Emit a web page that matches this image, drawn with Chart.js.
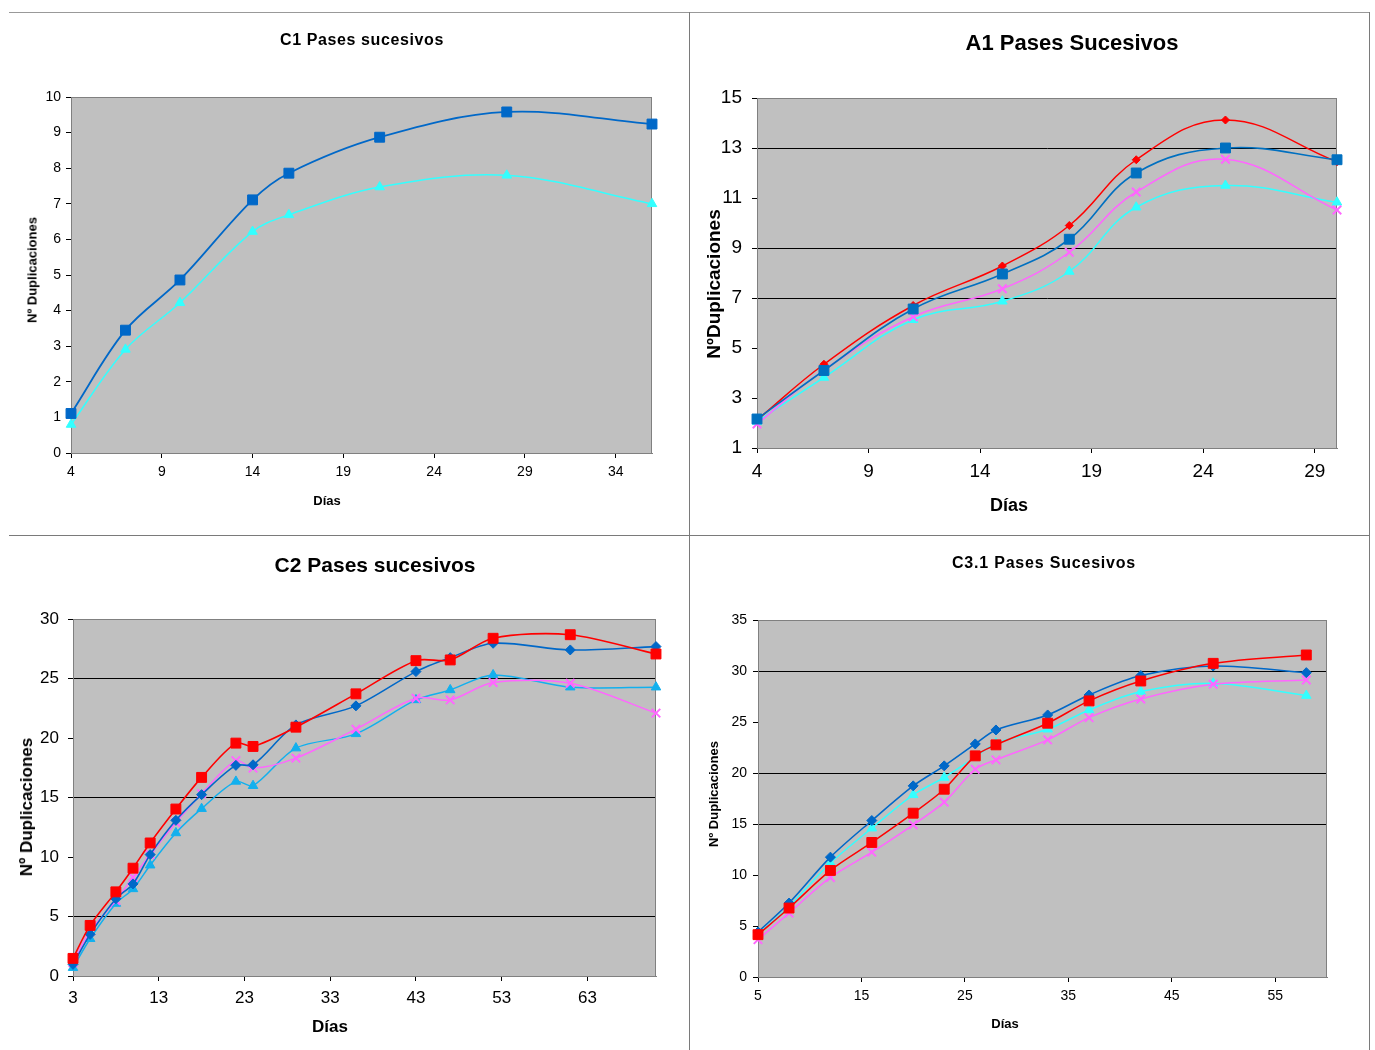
<!DOCTYPE html>
<html>
<head>
<meta charset="utf-8">
<script src="https://cdn.jsdelivr.net/npm/chart.js@4.4.0/dist/chart.umd.min.js"></script>
<style>
  body { margin: 0; background: #fff; font-family: "Liberation Sans", Arial, sans-serif; }
  #page { position: relative; width: 1375px; height: 1050px; overflow: hidden; }
  .panel { position: absolute; }
  .rule { position: absolute; background: #7a7a7a; }
  .lbl { position: absolute; font-weight: bold; color: #000; white-space: nowrap; transform: translate(-50%, -50%); }
  .rot { transform: translate(-50%, -50%) rotate(-90deg); }
</style>
</head>
<body>
<div id="page">
  <div class="rule" style="left:9px;top:12px;width:1361px;height:1px;background:#999"></div>
  <div class="rule" style="left:1369px;top:12px;width:1px;height:1038px"></div>
  <div class="rule" style="left:689px;top:12px;width:1px;height:1038px"></div>
  <div class="rule" style="left:9px;top:535px;width:1361px;height:1px"></div>

  <canvas id="c1" class="panel" width="679" height="522" style="left:10px;top:13px"></canvas>
  <canvas id="a1" class="panel" width="679" height="522" style="left:690px;top:13px"></canvas>
  <canvas id="c2" class="panel" width="679" height="514" style="left:10px;top:536px"></canvas>
  <canvas id="c3" class="panel" width="679" height="514" style="left:690px;top:536px"></canvas>

  <div class="lbl" style="left:362px;top:40px;font-size:16px;letter-spacing:0.6px">C1 Pases sucesivos</div>
  <div class="lbl rot" style="left:32px;top:270px;font-size:13px">Nº Duplicaciones</div>
  <div class="lbl" style="left:327px;top:500px;font-size:13px">Días</div>

  <div class="lbl" style="left:1072px;top:43px;font-size:22px">A1 Pases Sucesivos</div>
  <div class="lbl rot" style="left:714px;top:284px;font-size:19px">NºDuplicaciones</div>
  <div class="lbl" style="left:1009px;top:505px;font-size:18px">Días</div>

  <div class="lbl" style="left:375px;top:565px;font-size:21px">C2 Pases sucesivos</div>
  <div class="lbl rot" style="left:27px;top:807px;font-size:17px">Nº Duplicaciones</div>
  <div class="lbl" style="left:330px;top:1027px;font-size:17px">Días</div>

  <div class="lbl" style="left:1044px;top:563px;font-size:16px;letter-spacing:0.8px">C3.1 Pases Sucesivos</div>
  <div class="lbl rot" style="left:713px;top:794px;font-size:13px">Nº Duplicaciones</div>
  <div class="lbl" style="left:1005px;top:1023px;font-size:13px">Días</div>
</div>
<script>
// C1
const c1Days = [4, 7, 10, 14, 16, 21, 28, 36];
const c1Blue = [1.11, 3.45, 4.86, 7.11, 7.86, 8.87, 9.58, 9.24];
const c1Cyan = [0.8, 2.91, 4.22, 6.22, 6.69, 7.47, 7.8, 7.0];
const c1XTicks = [4, 9, 14, 19, 24, 29, 34];
const c1YTicks = [0, 1, 2, 3, 4, 5, 6, 7, 8, 9, 10];

// A1
const a1Days = [4, 7, 11, 15, 18, 21, 25, 30];
const a1Red = [2.12, 4.35, 6.7, 8.28, 9.9, 12.53, 14.12, 12.45];
const a1Blue = [2.16, 4.1, 6.56, 7.96, 9.35, 12.0, 13.0, 12.53];
const a1Magenta = [1.96, 4.12, 6.25, 7.37, 8.83, 11.24, 12.55, 10.52];
const a1Cyan = [2.06, 3.82, 6.13, 6.87, 8.06, 10.63, 11.5, 10.83];
const a1XTicks = [4, 9, 14, 19, 24, 29];
const a1YTicks = [1, 3, 5, 7, 9, 11, 13, 15];

// C2
const c2Days = [3, 5, 8, 10, 12, 15, 18, 22, 24, 29, 36, 43, 47, 52, 61, 71];
const c2Red = [1.48, 4.25, 7.07, 9.06, 11.18, 14.03, 16.69, 19.57, 19.29, 20.91, 23.71, 26.5, 26.56, 28.38, 28.68, 27.06];
const c2Blue = [0.98, 3.5, 6.49, 7.74, 10.2, 13.08, 15.24, 17.7, 17.75, 21.1, 22.7, 25.58, 26.75, 27.96, 27.4, 27.68];
const c2Magenta = [1.12, 3.77, 6.35, 8.3, 10.2, 12.9, 15.32, 18.1, 17.47, 18.31, 20.74, 23.34, 23.2, 24.66, 24.6, 22.09];
const c2Cyan = [0.7, 3.13, 6.09, 7.32, 9.31, 12.02, 14.06, 16.35, 15.99, 19.15, 20.35, 23.2, 24.04, 25.3, 24.27, 24.27];
const c2XTicks = [3, 13, 23, 33, 43, 53, 63];
const c2YTicks = [0, 5, 10, 15, 20, 25, 30];

// C3.1
const c3Days = [5, 8, 12, 16, 20, 23, 26, 28, 33, 37, 42, 49, 58];
const c3Blue = [4.41, 7.25, 11.75, 15.34, 18.74, 20.7, 22.85, 24.22, 25.69, 27.65, 29.55, 30.49, 29.84];
const c3Red = [4.15, 6.76, 10.45, 13.19, 16.06, 18.41, 21.68, 22.76, 24.88, 27.07, 29.02, 30.75, 31.57];
const c3Cyan = [4.21, 6.92, 11.17, 14.59, 17.86, 19.56, 21.55, 22.92, 24.29, 26.18, 27.98, 28.8, 27.59];
const c3Magenta = [3.66, 6.27, 9.76, 12.24, 14.92, 17.14, 20.37, 21.29, 23.25, 25.43, 27.26, 28.7, 29.12];
const c3XTicks = [5, 15, 25, 35, 45, 55];
const c3YTicks = [0, 5, 10, 15, 20, 25, 30, 35];

const FONT = '"Liberation Sans", Arial, sans-serif';

// gray plot background + frame, like excel
const plotFrame = {
  id: "plotFrame",
  beforeDraw(chart) {
    const a = chart.chartArea;
    const ctx = chart.ctx;
    ctx.save();
    ctx.fillStyle = "#C0C0C0";
    ctx.fillRect(a.left, a.top, a.right - a.left, a.bottom - a.top);
    ctx.restore();
  },
  beforeDatasetsDraw(chart) {
    const a = chart.chartArea;
    const ctx = chart.ctx;
    ctx.save();
    ctx.strokeStyle = "#808080";
    ctx.lineWidth = 1;
    ctx.strokeRect(a.left + 0.5, a.top + 0.5, a.right - a.left - 1, a.bottom - a.top);
    ctx.restore();
  },
};

function series(days, values, color, style, radius, width, tension) {
  return {
    data: days.map((d, i) => ({ x: d, y: values[i] })),
    borderColor: color,
    backgroundColor: color,
    pointBorderColor: color,
    pointBackgroundColor: color,
    pointStyle: style,
    pointRadius: radius,
    pointHoverRadius: radius,
    pointBorderWidth: style === "crossRot" ? 2 : 1,
    borderWidth: width,
    tension: tension,
    clip: false,
  };
}

function makeChart(id, datasets, o) {
  new Chart(document.getElementById(id), {
    type: "line",
    data: { datasets: datasets },
    plugins: [plotFrame],
    options: {
      responsive: false,
      animation: false,
      events: [],
      layout: { padding: o.pad },
      plugins: { legend: { display: false }, tooltip: { enabled: false } },
      scales: {
        x: {
          type: "linear",
          min: o.xMin,
          max: o.xMax,
          afterBuildTicks: (s) => { s.ticks = o.xTicks.map((v) => ({ value: v })); },
          afterFit: (s) => { s.height = o.xH; },
          grid: { drawOnChartArea: false, drawTicks: true, tickLength: 5, tickColor: "#000" },
          border: { color: "#808080" },
          ticks: { font: { family: FONT, size: o.font }, color: "#000", padding: o.xPad, maxRotation: 0, autoSkip: false },
        },
        y: {
          type: "linear",
          min: o.yMin,
          max: o.yMax,
          afterBuildTicks: (s) => { s.ticks = o.yTicks.map((v) => ({ value: v })); },
          afterFit: (s) => { s.width = o.yW; },
          grid: {
            color: (c) => (o.grid.includes(c.tick && c.tick.value) ? "#000" : "rgba(0,0,0,0)"),
            tickLength: 5,
            tickColor: "#000",
          },
          border: { color: "#808080" },
          ticks: { font: { family: FONT, size: o.font }, color: "#000", padding: o.yPad, autoSkip: false },
        },
      },
    },
  });
}

const BLUE = "#0068C8";
const CYAN = "#33FFFF";
const SKY = "#12B0EE";
const RED = "#FF0000";
const PINK = "#FF66FF";

makeChart("c1", [
  series(c1Days, c1Blue, BLUE, "rect", 7, 1.8, 0.35),
  series(c1Days, c1Cyan, CYAN, "triangle", 5.5, 1.5, 0.35),
], {
  xMin: 4, xMax: 36, xTicks: c1XTicks, yMin: 0, yMax: 10, yTicks: c1YTicks, grid: [],
  pad: { left: 0, top: 84, right: 37, bottom: 42 }, yW: 61, xH: 40, font: 14, xPad: 6, yPad: 5,
});

makeChart("a1", [
  series(a1Days, a1Blue, "#0070C0", "rect", 7, 1.6, 0.4),
  series(a1Days, a1Red, RED, "rectRot", 4, 1.5, 0.4),
  series(a1Days, a1Magenta, PINK, "crossRot", 6, 1.5, 0.4),
  series(a1Days, a1Cyan, CYAN, "triangle", 5.5, 1.5, 0.4),
], {
  xMin: 4, xMax: 30, xTicks: a1XTicks, yMin: 1, yMax: 15, yTicks: a1YTicks, grid: [7, 9, 13],
  pad: { left: 0, top: 85, right: 32, bottom: 47 }, yW: 67, xH: 40, font: 19, xPad: 7, yPad: 10,
});

makeChart("c2", [
  series(c2Days, c2Red, RED, "rect", 7, 1.6, 0.3),
  series(c2Days, c2Blue, BLUE, "rectRot", 5, 1.6, 0.3),
  series(c2Days, c2Magenta, PINK, "crossRot", 6, 1.5, 0.3),
  series(c2Days, c2Cyan, SKY, "triangle", 5.5, 1.5, 0.3),
], {
  xMin: 3, xMax: 71, xTicks: c2XTicks, yMin: 0, yMax: 30, yTicks: c2YTicks, grid: [5, 15, 25],
  pad: { left: 0, top: 83, right: 33, bottom: 34 }, yW: 63, xH: 40, font: 17, xPad: 7, yPad: 9,
});

makeChart("c3", [
  series(c3Days, c3Red, RED, "rect", 7, 1.5, 0.3),
  series(c3Days, c3Blue, BLUE, "rectRot", 5, 1.6, 0.3),
  series(c3Days, c3Magenta, PINK, "crossRot", 6, 1.5, 0.3),
  series(c3Days, c3Cyan, CYAN, "triangle", 5.5, 1.5, 0.3),
], {
  xMin: 5, xMax: 60, xTicks: c3XTicks, yMin: 0, yMax: 35, yTicks: c3YTicks, grid: [15, 20, 30],
  pad: { left: 0, top: 84, right: 42, bottom: 33 }, yW: 68, xH: 40, font: 14, xPad: 6, yPad: 6,
});
</script>
</body>
</html>
